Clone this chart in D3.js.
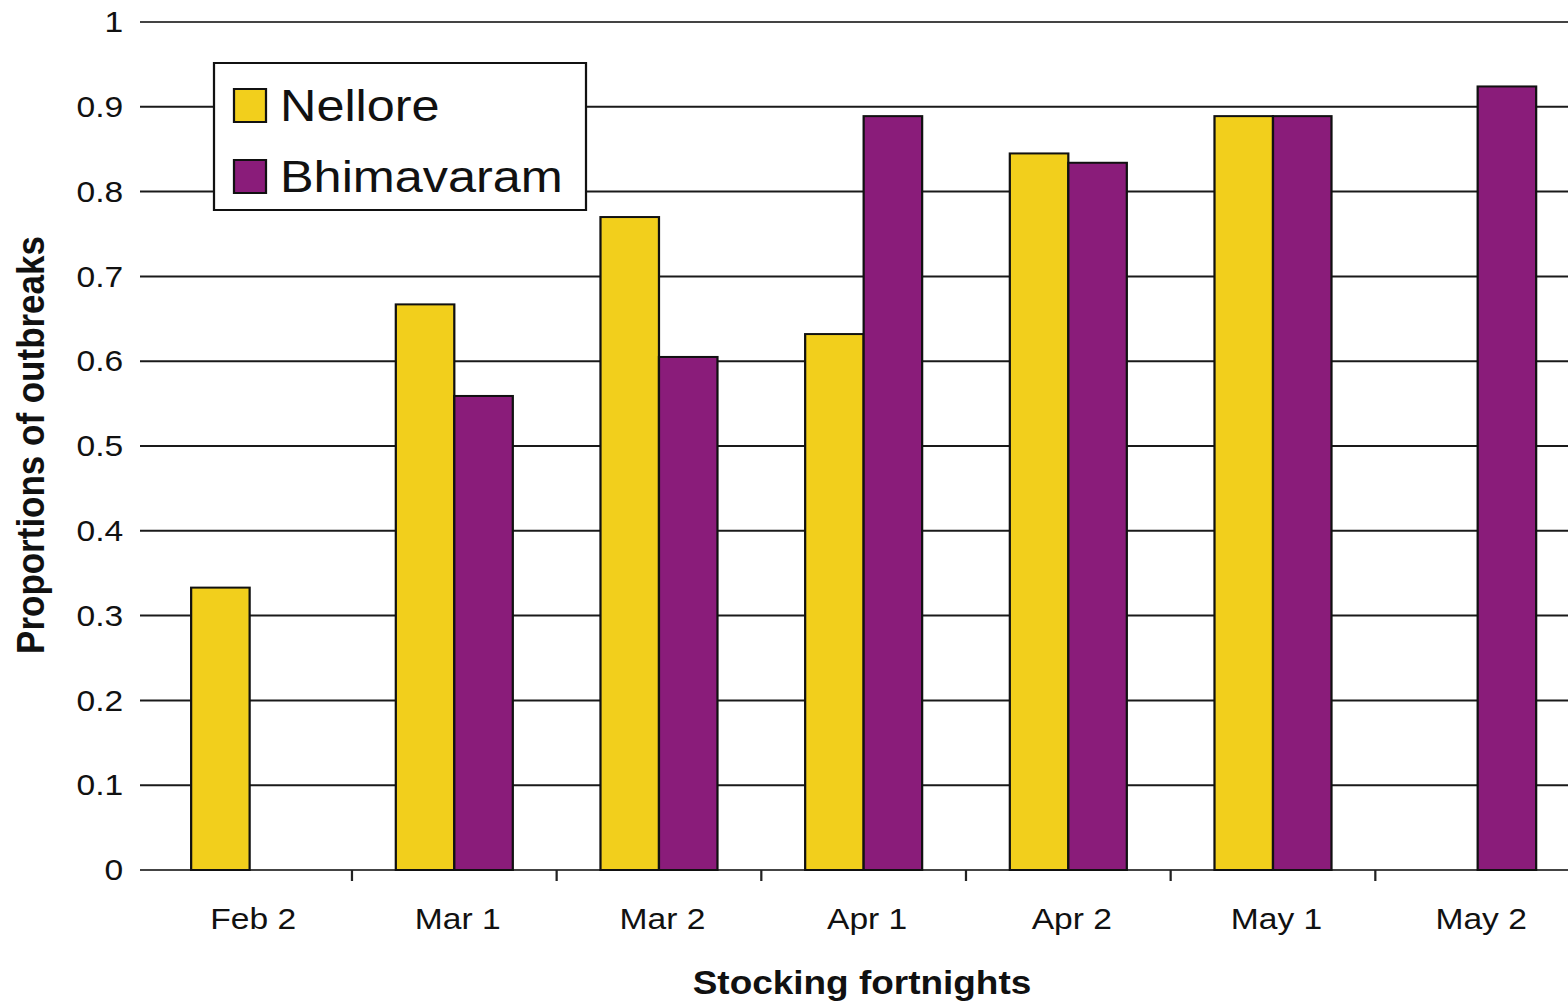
<!DOCTYPE html>
<html>
<head>
<meta charset="utf-8">
<script src="https://cdn.jsdelivr.net/npm/d3@7"></script>
<style>
  body { margin: 0; background: #fff; }
  text { font-family: "Liberation Sans", Arial, sans-serif; fill: #111; }
</style>
</head>
<body>
<script>
// data
var categories = ["Feb 2", "Mar 1", "Mar 2", "Apr 1", "Apr 2", "May 1", "May 2"];
var nellore    = [0.333, 0.667, 0.770, 0.632, 0.845, 0.889, null];
var bhimavaram = [null, 0.559, 0.605, 0.889, 0.834, 0.889, 0.924];
var seriesNames = ["Nellore", "Bhimavaram"];
var seriesColors = ["#F2CF1C", "#8A1C7A"];
var yTicks = [0, 0.1, 0.2, 0.3, 0.4, 0.5, 0.6, 0.7, 0.8, 0.9, 1];

// the original is stretched sideways, so draw in a narrower viewBox
var W = 1568, H = 1004, stretch = 1.12;
var vbW = W / stretch;

var svg = d3.select("body")
            .append("svg")
            .attr("width", W)
            .attr("height", H)
            .attr("viewBox", "0 0 " + vbW + " " + H)
            .attr("preserveAspectRatio", "none");

var x = d3.scaleBand()
          .domain(categories)
          .range([147.3 / stretch, 1580 / stretch])
          .paddingInner(0.4284)
          .paddingOuter(0.2142);

var x1 = d3.scaleBand()
           .domain(seriesNames)
           .range([0, x.bandwidth()]);

var y = d3.scaleLinear()
          .domain([0, 1])
          .range([870, 22]);

var gridLeft = 140 / stretch;

// grid lines
svg.append("g")
   .selectAll("line")
   .data(yTicks)
   .enter()
   .append("line")
   .attr("x1", gridLeft)
   .attr("x2", vbW)
   .attr("y1", function(d) { return y(d); })
   .attr("y2", function(d) { return y(d); })
   .attr("stroke", function(d) { return (d === 1 || d === 0) ? "#444" : "#1a1a1a"; })
   .attr("stroke-width", 2);

// y axis labels
var yAxis = svg.append("g")
               .attr("transform", "translate(" + gridLeft + ",0)")
               .call(d3.axisLeft(y).tickValues(yTicks).tickSize(0).tickPadding(15)
                       .tickFormat(function(d) { return d === 0 || d === 1 ? d3.format("d")(d) : d3.format(".1f")(d); }));
yAxis.select(".domain").remove();
yAxis.selectAll("text")
     .style("font-size", "30px")
     .style("font-family", "'Liberation Sans', Arial, sans-serif")
     .attr("fill", "#111");

// bars
var rows = categories.map(function(c, i) {
    return {cat: c, vals: [{s: "Nellore", v: nellore[i]}, {s: "Bhimavaram", v: bhimavaram[i]}]};
});

var groups = svg.selectAll(".grp")
                .data(rows)
                .enter()
                .append("g")
                .attr("class", "grp")
                .attr("transform", function(d) { return "translate(" + x(d.cat) + ",0)"; });

groups.selectAll("rect")
      .data(function(d) { return d.vals.filter(function(e) { return e.v !== null; }); })
      .enter()
      .append("rect")
      .attr("x", function(d) { return x1(d.s); })
      .attr("width", x1.bandwidth())
      .attr("y", function(d) { return y(d.v); })
      .attr("height", function(d) { return y(0) - y(d.v); })
      .attr("fill", function(d) { return seriesColors[seriesNames.indexOf(d.s)]; })
      .attr("stroke", "#111")
      .attr("stroke-width", 2);

// x axis: labels at band centres, ticks at band boundaries
var xAxis = svg.append("g")
               .attr("transform", "translate(" + (3.5 / stretch) + "," + y(0) + ")")
               .call(d3.axisBottom(x).tickSize(0).tickPadding(38));
xAxis.select(".domain").remove();
xAxis.selectAll("text")
     .style("font-size", "30px")
     .style("font-family", "'Liberation Sans', Arial, sans-serif")
     .attr("fill", "#111");

svg.append("g")
   .selectAll("line")
   .data(categories.slice(1))
   .enter()
   .append("line")
   .attr("x1", function(d) { return x(d) - (x.step() - x.bandwidth()) / 2; })
   .attr("x2", function(d) { return x(d) - (x.step() - x.bandwidth()) / 2; })
   .attr("y1", y(0))
   .attr("y2", y(0) + 11)
   .attr("stroke", "#222")
   .attr("stroke-width", 2);

// axis titles
svg.append("text")
   .attr("x", 862 / stretch)
   .attr("y", 994)
   .attr("text-anchor", "middle")
   .style("font-size", "33px")
   .style("font-weight", "bold")
   .text("Stocking fortnights");

svg.append("text")
   .attr("transform", "translate(" + (44 / stretch) + "," + 445 + ") rotate(-90)")
   .attr("text-anchor", "middle")
   .style("font-size", "35px")
   .style("font-weight", "bold")
   .text("Proportions of outbreaks");

// legend
var legend = svg.append("g");
legend.append("rect")
      .attr("x", 214 / stretch)
      .attr("y", 63)
      .attr("width", (586 - 214) / stretch)
      .attr("height", 147)
      .attr("fill", "#fff")
      .attr("stroke", "#111")
      .attr("stroke-width", 2);

var items = legend.selectAll(".item")
                  .data(seriesNames)
                  .enter()
                  .append("g")
                  .attr("class", "item")
                  .attr("transform", function(d, i) { return "translate(0," + (i * 71) + ")"; });

items.append("rect")
     .attr("x", 234 / stretch)
     .attr("y", 89)
     .attr("width", 32 / stretch)
     .attr("height", 33)
     .attr("fill", function(d, i) { return seriesColors[i]; })
     .attr("stroke", "#111")
     .attr("stroke-width", 2);

items.append("text")
     .attr("x", 280 / stretch)
     .attr("y", 121)
     .style("font-size", "45px")
     .text(function(d) { return d; });
</script>
</body>
</html>
